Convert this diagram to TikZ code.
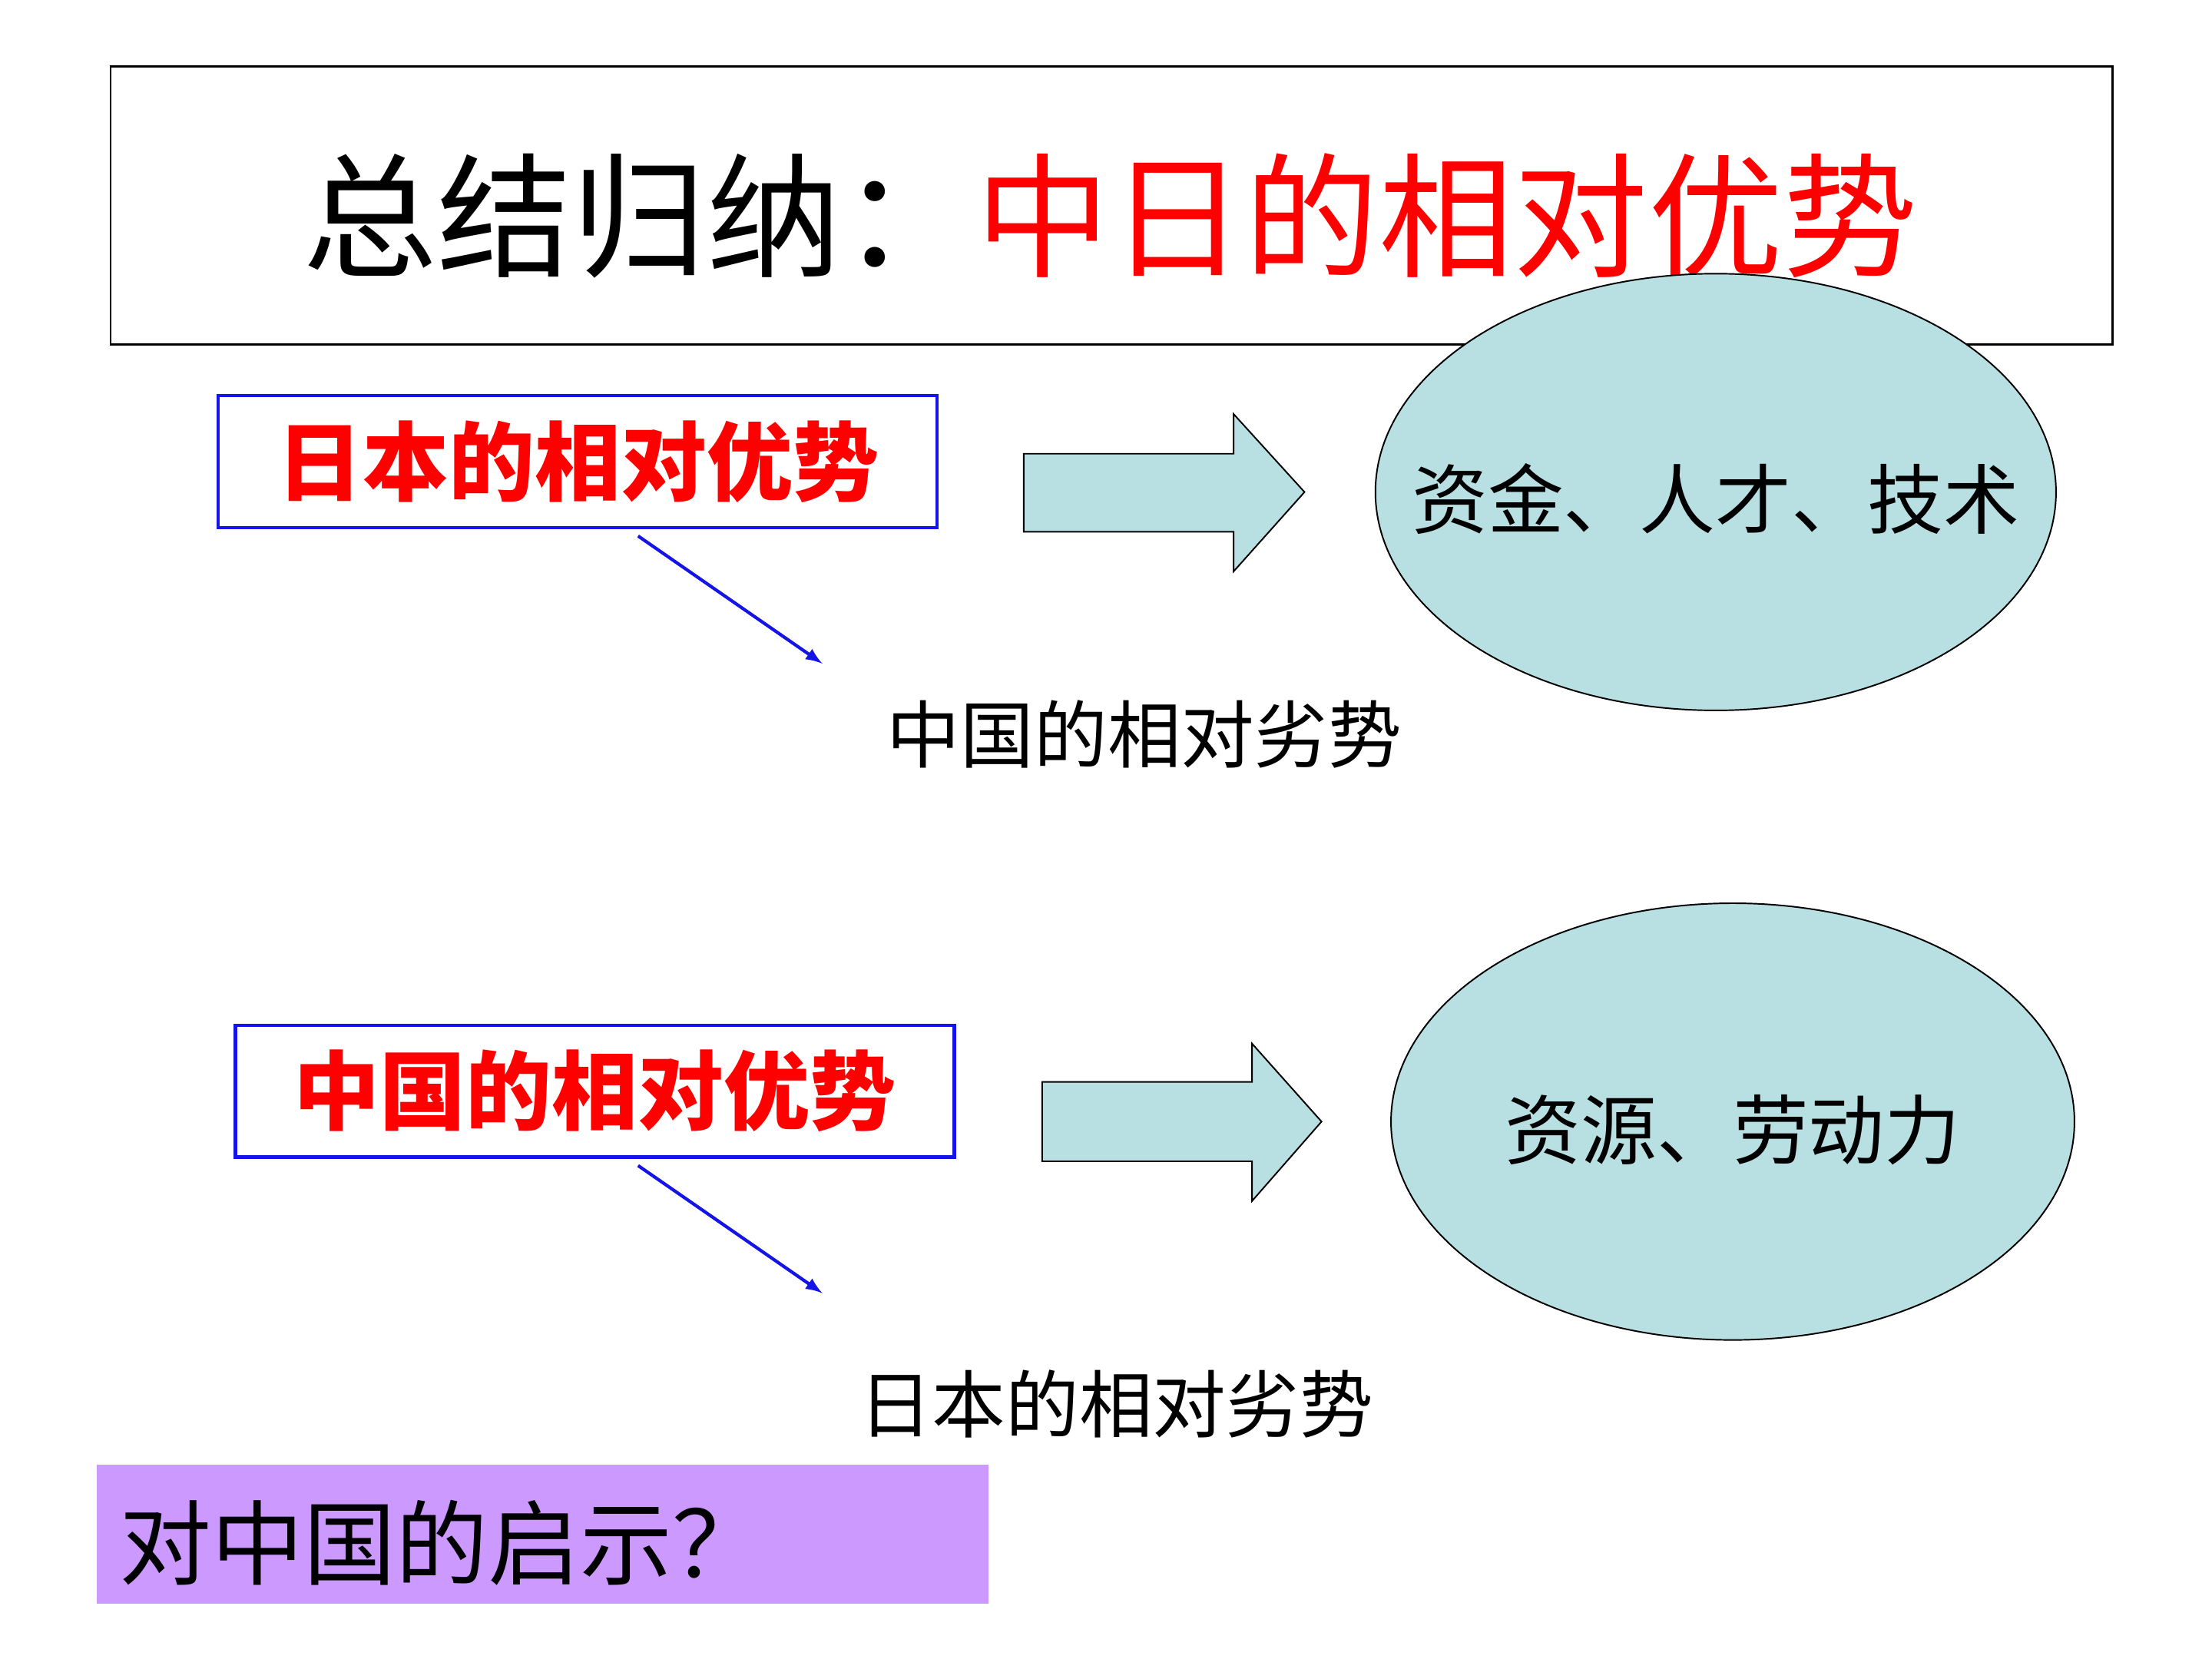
\documentclass[tikz,border=0pt]{standalone}
\usepackage{fontspec}
\setmainfont{Noto Sans CJK SC}
\usetikzlibrary{shapes.geometric}
\definecolor{ell}{RGB}{184,224,226}
\definecolor{purp}{RGB}{204,153,255}
\definecolor{bblue}{RGB}{20,20,230}
\begin{document}
\begin{tikzpicture}[x=0.02cm,y=-0.02cm,
  ellip/.style={ellipse,draw=black,fill=ell,line width=0.6pt},
  adv/.style={draw=bblue,line width=1.3pt,minimum width=507*0.02cm,minimum height=93*0.02cm,text=red,font=\fontsize{34.5}{38}\selectfont\bfseries},
  big/.style={draw=black,fill=ell,line width=0.6pt},
  thin/.style={draw=bblue,line width=1.3pt,-latex},
  txt/.style={font=\fontsize{30.5}{34}\selectfont}]
\useasboundingbox (0,0) rectangle (1560,1170);
\node[draw=black,line width=0.8pt,minimum width=1412*0.02cm,minimum height=196*0.02cm] (title) at (784,145) {};
\node[font=\fontsize{54}{60}\selectfont] (tt) at (783,152) {总结归纳：\textcolor{red}{中日的相对优势}};
\node[ellip,minimum width=480*0.02cm,minimum height=308*0.02cm] (e1) at (1210,347) {};
\node[txt] (e1t) at (1210,352) {资金、人才、技术};
\node[adv] (b1) at (407.5,325.5) {日本的相对优势};
\draw[big] (722,320) -- (870,320) -- (870,292) -- (920,347) -- (870,403) -- (870,375) -- (722,375) -- cycle;
\coordinate (s1) at (450,378); \coordinate (t1) at (580,468);
\draw[thin] (s1) -- (t1);
\node[txt,font=\fontsize{29.5}{33}\selectfont] (l1) at (807,518) {中国的相对劣势};
\node[ellip,minimum width=482*0.02cm,minimum height=308*0.02cm] (e2) at (1222,791) {};
\node[txt] (e2t) at (1222,797) {资源、劳动力};
\node[adv] (b2) at (419.5,769.5) {中国的相对优势};
\draw[big] (735,763) -- (883,763) -- (883,736) -- (932,791) -- (883,847) -- (883,819) -- (735,819) -- cycle;
\coordinate (s2) at (450,822); \coordinate (t2) at (580,912);
\draw[thin] (s2) -- (t2);
\node[txt,font=\fontsize{29.5}{33}\selectfont] (l2) at (787,990) {日本的相对劣势};
\node[fill=purp,minimum width=629*0.02cm,minimum height=98*0.02cm] (p) at (382.5,1082) {};
\node[font=\fontsize{37}{42}\selectfont,anchor=west] (pt) at (78,1088) {对中国的启示？};
\end{tikzpicture}
\end{document}
